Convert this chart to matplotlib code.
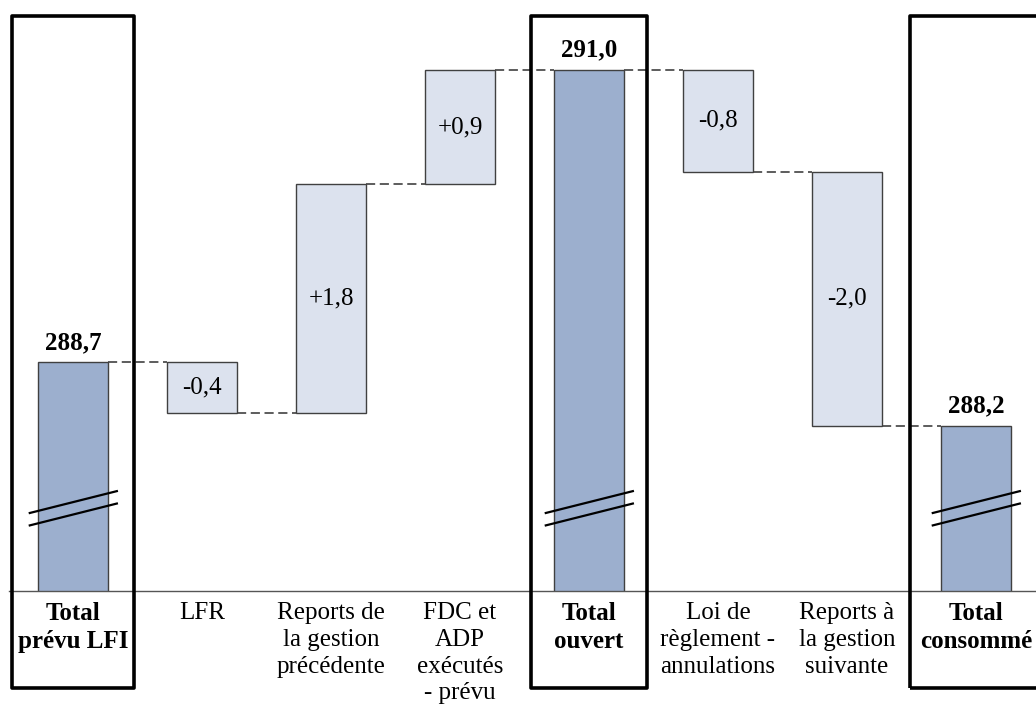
import matplotlib
matplotlib.use("Agg")
import matplotlib.pyplot as plt
import matplotlib.transforms as mtransforms
from matplotlib.patches import Rectangle

# données (Md€)
categories = [
    "Total\nprévu LFI",
    "LFR",
    "Reports de\nla gestion\nprécédente",
    "FDC et\nADP\nexécutés\n- prévu",
    "Total\nouvert",
    "Loi de\nrèglement -\nannulations",
    "Reports à\nla gestion\nsuivante",
    "Total\nconsommé",
]
values = [288.7, -0.4, 1.8, 0.9, 291.0, -0.8, -2.0, 288.2]
is_total = [True, False, False, False, True, False, False, True]

total_color = "#9cafce"
delta_color = "#dce2ee"
edge_color = "#404040"
bar_w = 0.55

plt.rcParams["font.family"] = ["Liberation Serif", "DejaVu Serif"]
plt.rcParams["font.size"] = 18

fig = plt.figure(figsize=(10.36, 7.11), dpi=100)
ax = fig.add_axes([8.5 / 1036, 120 / 711, 1032 / 1036, 591 / 711])

x = list(range(len(categories)))
level = 0.0
tops = []
for i, (v, tot) in enumerate(zip(values, is_total)):
    if tot:
        ax.bar(i, v, width=bar_w, color=total_color, edgecolor=edge_color, linewidth=1, zorder=2)
        ax.annotate(f"{v:.1f}".replace(".", ","), (i, v), xytext=(0, 6),
                    textcoords="offset points", ha="center", va="bottom",
                    fontweight="bold")
        level = v
    else:
        bottom = level if v > 0 else level + v
        ax.bar(i, abs(v), bottom=bottom, width=bar_w, color=delta_color,
               edgecolor=edge_color, linewidth=1, zorder=2)
        ax.text(i, bottom + abs(v) / 2, f"{v:+.1f}".replace(".", ","),
                ha="center", va="center", zorder=3)
        level += v
    tops.append(level)

# traits pointillés entre les barres
for i in range(len(values) - 1):
    ax.plot([i + bar_w / 2, i + 1 - bar_w / 2], [tops[i], tops[i]],
            color="#303030", linestyle=(0, (6, 3)), linewidth=1.1, zorder=1)

ax.set_xlim(-0.5, len(categories) - 0.5)
ax.set_ylim(286.9, 291.55)
ax.set_yticks([])
for s in ["top", "right", "left"]:
    ax.spines[s].set_visible(False)
ax.spines["bottom"].set_color("#555555")
ax.spines["bottom"].set_linewidth(1)

ax.set_xticks(x)
ax.set_xticklabels(categories)
ax.tick_params(axis="x", length=0, pad=8)
for lbl, tot in zip(ax.get_xticklabels(), is_total):
    lbl.set_linespacing(1.28)
    lbl.set_fontweight("bold" if tot else "normal")

# marques de rupture d'axe sur les totaux
brk = mtransforms.blended_transform_factory(ax.transData, ax.transAxes)
for i, tot in enumerate(is_total):
    if not tot:
        continue
    for dy in (0.0, -0.021):
        ax.plot([i - 0.335, i + 0.34], [0.132 + dy, 0.169 + dy], color="black",
                linewidth=1.6, transform=brk, clip_on=False, zorder=4)

# cadres autour des totaux
frame = mtransforms.blended_transform_factory(ax.transData, fig.transFigure)
half_w = {0: 0.47, 4: 0.446, 7: 0.51}
for i, hw in half_w.items():
    ax.add_patch(Rectangle((i - hw, 23 / 711), 2 * hw, 672 / 711, transform=frame,
                           fill=False, edgecolor="black", linewidth=2.6,
                           joinstyle="round", clip_on=False, zorder=5))

fig.savefig("out.png", dpi=100)
